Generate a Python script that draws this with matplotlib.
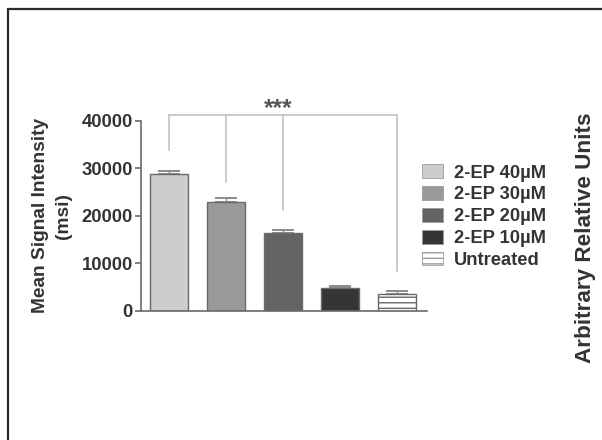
import matplotlib
matplotlib.use("Agg")
import matplotlib.pyplot as plt
from matplotlib.patches import Rectangle

plt.rcParams['font.family'] = ['Liberation Sans', 'DejaVu Sans']
plt.rcParams['font.weight'] = 'bold'
plt.rcParams['hatch.color'] = '#8a8a8a'
plt.rcParams['hatch.linewidth'] = 1.0

# Treatment groups and mean signal intensity (msi) with error
groups = ["2-EP 40\u00b5M", "2-EP 30\u00b5M", "2-EP 20\u00b5M", "2-EP 10\u00b5M", "Untreated"]
means = [28800, 22900, 16400, 4800, 3600]
errors = [700, 800, 600, 400, 600]
bar_colors = ["#cdcdcd", "#9a9a9a", "#646464", "#353535", "#ffffff"]
bar_hatches = [None, None, None, None, "---"]
yticks = [0, 10000, 20000, 30000, 40000]

# Significance bracket: shared bar height and drop ends per compared group
bracket_y = 41300
bracket_groups = [0, 1, 2, 4]
drop_ends = [33800, 27100, 21200, 8400]
sig_label = "***"

text_color = "#333333"

fig = plt.figure(figsize=(6.02, 4.40), dpi=100)
fig.patch.set_facecolor("white")

# outer panel frame (continues past the right and bottom edges)
frame = Rectangle((8 / 602, -0.1), 1.2, (440 - 9) / 440 + 0.1, transform=fig.transFigure,
                  fill=False, edgecolor="#2a2a2a", linewidth=1.6)
fig.add_artist(frame)

ax = fig.add_axes([141 / 602, 1 - 310.7 / 440, (427 - 141) / 602, (310.7 - 120.7) / 440])
x = list(range(len(groups)))
bars = ax.bar(x, means, width=0.675, color=bar_colors, edgecolor="#6a6a6a", linewidth=1.0,
              label=groups, zorder=2)
for b, h in zip(bars, bar_hatches):
    if h:
        b.set_hatch(h)
ax.errorbar(x, means, yerr=[[0] * len(errors), errors], fmt="none", ecolor="#8a8a8a",
            elinewidth=1.0, capsize=8, capthick=1.4, zorder=1)

ax.set_xlim(-0.49, 4.53)
ax.set_ylim(0, 40000)
ax.set_yticks(yticks)
ax.set_yticklabels([str(t) for t in yticks], fontsize=13.3, color=text_color, fontweight="bold")
ax.set_xticks([])
for s in ["top", "right"]:
    ax.spines[s].set_visible(False)
for s in ["left", "bottom"]:
    ax.spines[s].set_color("#6a6a6a")
    ax.spines[s].set_linewidth(1.2)
ax.tick_params(axis="y", length=4, width=1.2, color="#6a6a6a", pad=2)

ax.set_ylabel("Mean Signal Intensity\n(msi)", fontsize=13.8, color=text_color,
              fontweight="bold", labelpad=7, linespacing=1.45)

# significance bracket
ax.plot([bracket_groups[0], bracket_groups[-1]], [bracket_y, bracket_y], color="#c4c4c4",
        lw=1.2, clip_on=False, zorder=3)
for g, end in zip(bracket_groups, drop_ends):
    ax.plot([g, g], [bracket_y, end], color="#c4c4c4", lw=1.2, clip_on=False, zorder=3)
ax.text(1.92, 41300, sig_label, ha="center", va="baseline", fontsize=17.5,
        color="#555555", fontweight="bold", zorder=4)

handles, labels = ax.get_legend_handles_labels()
leg = fig.legend(handles, labels, loc="upper left", bbox_to_anchor=(421.5 / 602, 1 - 164.5 / 440),
                 frameon=False, fontsize=13.2, handlelength=1.15, handleheight=0.75,
                 handletextpad=0.6, labelspacing=0.26, borderaxespad=0, borderpad=0)
for t in leg.get_texts():
    t.set_color(text_color)
    t.set_fontweight("bold")
for p in leg.get_patches():
    p.set_edgecolor("#9a9a9a")
    p.set_linewidth(0.6)

fig.text(586 / 602, 1 - 238 / 440, "Arbitrary Relative Units", rotation=90, ha="center",
         va="center", fontsize=16.2, color=text_color, fontweight="bold")

fig.savefig("out.png", dpi=100)
